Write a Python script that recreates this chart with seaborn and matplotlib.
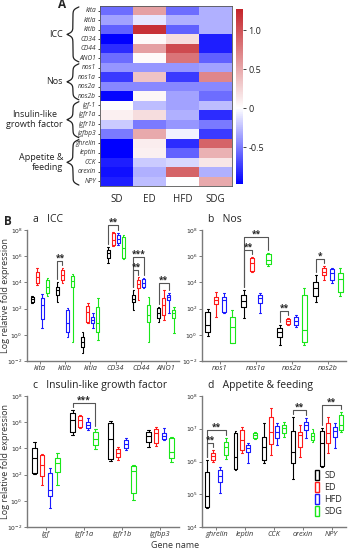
import numpy as np
import pandas as pd
import matplotlib
matplotlib.use("Agg")
import matplotlib.pyplot as plt
import matplotlib.transforms as mtransforms
from matplotlib.colors import LinearSegmentedColormap
from matplotlib.patches import Patch
import seaborn as sns

sns.set_theme(style="ticks")
plt.rcParams['font.family'] = ['Open Sans', 'DejaVu Sans']

# ---------------- data: heatmap (A) ----------------
heat_genes = ["kita", "kitla", "kitlb", "CD34", "CD44", "ANO1",
              "nos1", "nos1a", "nos2a", "nos2b",
              "igf-1", "igfr1a", "igfr1b", "igfbp3",
              "ghrelin", "leptin", "CCK", "orexin", "NPY"]
heat_groups = ["SD", "ED", "HFD", "SDG"]
heat_values = [
    [-0.55, 0.55, -0.55, -0.30],
    [-0.35, -0.10, -0.30, -0.30],
    [-0.60, 1.20, -0.60, -0.30],
    [-0.97, 0.03, 0.20, -0.85],
    [-0.80, 0.55, 1.05, -0.85],
    [-0.55, 0.03, 0.80, -0.60],
    [-0.40, -0.40, -0.40, -0.35],
    [-0.75, 0.35, -0.75, 0.70],
    [-0.45, -0.45, -0.45, -0.45],
    [-0.95, 0.05, -0.35, -0.55],
    [0.00, -0.25, -0.35, -0.25],
    [0.08, 0.20, -0.30, -0.80],
    [-0.20, -0.50, -0.40, -0.50],
    [-0.50, 0.50, -0.05, -0.75],
    [-0.97, 0.10, -0.80, 0.90],
    [-0.97, 0.08, -0.60, 0.45],
    [-0.85, -0.20, -0.15, 0.15],
    [-0.90, -0.30, 0.90, -0.30],
    [-0.85, -0.25, 0.00, 0.50],
]
heat_blocks = [("ICC", 0, 6, "right"), ("Nos", 6, 10, "right"),
               ("Insulin-like\ngrowth factor", 10, 14, "center"),
               ("Appetite &\nfeeding", 14, 19, "right")]

# ---------------- data: box plots (B), log10 fold expression ----------------
# each box: [min, q1, median, q3, max]
groups = ["SD", "ED", "HFD", "SDG"]
group_colors = ["#000000", "#FF1A1A", "#1A1AFF", "#1AE61A"]

icc_genes = ["kita", "kitlb", "kitla", "CD34", "CD44", "ANO1"]
icc_sd = [[2.4, 2.5, 2.7, 2.9, 3.0], [2.5, 3.04, 3.42, 3.65, 4.03], [-1.4, -0.93, -0.55, -0.17, 0.2],
          [5.5, 5.86, 6.24, 6.47, 6.7], [1.9, 2.5, 2.73, 3.04, 3.42], [1.0, 1.28, 1.66, 2.05, 2.12]]
icc_ed = [[3.8, 3.95, 4.4, 4.8, 5.1], [3.95, 4.2, 4.55, 4.95, 5.1], [0.9, 1.0, 1.74, 2.2, 2.43],
          [6.78, 6.85, 7.24, 7.77, 7.85], [2.65, 3.57, 3.87, 4.2, 4.4], [1.13, 1.5, 2.27, 2.8, 3.42]]
icc_hfd = [[0.5, 1.2, 2.3, 2.8, 3.1], [-0.2, 0.2, 0.9, 1.9, 2.05], [0.5, 0.9, 1.13, 1.36, 1.66],
           [6.85, 7.0, 7.3, 7.6, 7.77], [3.57, 3.65, 3.95, 4.27, 4.34], [1.66, 2.65, 2.88, 3.04, 3.2]]
icc_sdg = [[3.0, 3.2, 3.65, 4.2, 4.35], [-0.55, 3.65, 4.1, 4.5, 4.64], [-0.4, 0.2, 0.9, 2.1, 2.8],
           [5.8, 5.86, 6.63, 7.47, 7.6], [-0.55, 0.98, 1.5, 2.27, 2.88], [0.13, 1.28, 1.66, 1.9, 2.12]]
icc_sig = [("kitlb", "SD", "ED", "**"), ("CD34", "SD", "HFD", "**"),
           ("CD44", "SD", "ED", "**"), ("CD44", "SD", "HFD", "***"),
           ("ANO1", "SD", "HFD", "**")]

nos_genes = ["nos1", "nos1a", "nos2a", "nos2b"]
nos_sd = [[-0.1, 0.2, 0.75, 1.74, 1.97], [1.28, 2.12, 2.58, 3.04, 3.42],
          [-0.78, -0.17, 0.2, 0.52, 0.75], [2.5, 2.96, 3.57, 4.03, 4.56]]
nos_ed = [[1.35, 2.35, 2.65, 2.88, 3.27], [4.8, 4.87, 5.48, 5.86, 5.94],
          [0.75, 0.82, 1.05, 1.2, 1.28], [4.2, 4.56, 4.8, 5.1, 5.25]]
nos_hfd = [[1.66, 1.74, 2.65, 2.88, 3.2], [1.66, 2.43, 2.8, 3.04, 3.2],
           [0.6, 0.75, 1.05, 1.35, 1.5], [3.95, 4.2, 4.7, 5.0, 5.1]]
nos_sdg = [[-0.65, -0.63, 0.6, 1.35, 1.9], [5.25, 5.4, 5.7, 6.17, 6.24],
           [-0.78, -0.55, 0.37, 3.04, 3.57], [2.96, 3.27, 4.26, 4.72, 5.1]]
nos_sig = [("nos1a", "SD", "ED", "**"), ("nos1a", "SD", "SDG", "**"),
           ("nos2a", "SD", "ED", "**"), ("nos2b", "SD", "ED", "*")]

igf_genes = ["igf", "igfr1a", "igfr1b", "igfbp3"]
igf_sd = [[2.05, 2.12, 3.27, 4.03, 4.49], [5.0, 5.25, 6.17, 6.7, 6.93],
          [3.04, 3.19, 4.72, 5.94, 6.09], [4.1, 4.49, 4.95, 5.25, 5.4]]
igf_ed = [[1.2, 1.9, 2.73, 3.5, 3.57], [5.56, 5.63, 6.17, 6.47, 6.55],
          [3.1, 3.34, 3.65, 3.95, 4.1], [4.18, 4.41, 5.17, 5.48, 5.63]]
igf_hfd = [[-0.55, 0.37, 0.82, 2.12, 2.5], [5.4, 5.56, 5.8, 6.0, 6.32],
           [3.88, 4.03, 4.34, 4.64, 4.8], [4.64, 4.72, 4.95, 5.17, 5.56]]
igf_sdg = [[1.2, 2.2, 2.88, 3.27, 3.65], [3.95, 4.26, 4.72, 5.25, 5.48],
           [0.06, 0.6, 2.27, 2.65, 2.73], [2.96, 3.27, 3.73, 4.8, 4.87]]
igf_sig = [("igfr1a", "SD", "SDG", "***")]

app_genes = ["ghrelin", "leptin", "CCK", "orexin", "NPY"]
app_sd = [[4.58, 4.61, 4.95, 5.68, 6.05], [5.75, 5.77, 6.14, 6.87, 6.93], [5.95, 6.05, 6.44, 6.75, 7.18],
          [5.47, 5.95, 6.29, 6.93, 7.36], [5.84, 5.86, 6.56, 6.93, 7.02]]
app_ed = [[5.98, 6.05, 6.17, 6.26, 6.35], [6.26, 6.35, 6.66, 6.96, 7.05], [6.2, 6.53, 6.9, 7.36, 7.63],
          [6.14, 6.44, 6.81, 6.9, 7.11], [6.26, 6.56, 6.87, 7.18, 7.36]]
app_hfd = [[5.04, 5.37, 5.56, 5.74, 5.83], [5.95, 6.29, 6.41, 6.5, 6.56], [6.5, 6.72, 6.9, 7.08, 7.18],
           [6.72, 6.96, 7.11, 7.2, 7.33], [6.41, 6.75, 6.93, 7.05, 7.18]]
app_sdg = [[6.08, 6.2, 6.44, 6.6, 6.72], [6.7, 6.72, 6.8, 6.88, 6.9], [6.75, 6.87, 7.02, 7.11, 7.2],
           [6.6, 6.66, 6.78, 6.87, 6.99], [6.9, 6.96, 7.11, 7.42, 7.51]]
app_sig = [("ghrelin", "SD", "ED", "**"), ("ghrelin", "SD", "SDG", "**"),
           ("orexin", "SD", "HFD", "**"), ("NPY", "SD", "SDG", "**")]

AXIS_GREY = "#7a7a7a"


def to_long(genes, per_group):
    rows = []
    for grp, arr in zip(groups, per_group):
        for g, vals in zip(genes, arr):
            for v in vals:
                rows.append((g, grp, v))
    return pd.DataFrame(rows, columns=["gene", "group", "val"])


def draw_panel(ax, genes, per_group, sig, ylim, yticks, width, title):
    df = to_long(genes, per_group)
    sns.boxplot(data=df, x="gene", y="val", hue="group", order=genes, hue_order=groups,
                palette=group_colors, fill=False, whis=(0, 100), width=width, gap=0.4,
                linewidth=0.8, legend=False, ax=ax)
    ax.set_ylim(*ylim)
    ax.set_xlim(-0.5, len(genes) - 0.5)
    ax.set_yticks(yticks)
    ax.set_yticklabels([f"$10^{{{t}}}$" for t in yticks], fontsize=4.3)
    ax.set_xticks(range(len(genes)))
    ax.set_xticklabels(genes, fontsize=5.3, style="italic", color="#333333")
    ax.set_xlabel("")
    ax.set_ylabel("")
    sns.despine(ax=ax)
    for s in ["left", "bottom"]:
        ax.spines[s].set_color(AXIS_GREY)
        ax.spines[s].set_linewidth(1.0)
    ax.tick_params(axis="both", length=2, width=0.7, color=AXIS_GREY, pad=1.2)
    ax.text(0.04, 1.035, title, transform=ax.transAxes, fontsize=7.5, va="bottom", color="#222222")

    # significance brackets
    span = ylim[1] - ylim[0]
    pad, step, drop = 0.055 * span, 0.1 * span, 0.02 * span
    n = len(groups)
    offs = [(-width / 2 + width / (2 * n) + i * width / n) for i in range(n)]
    maxima = {(g, grp): max(arr[i]) for grp, arr in zip(groups, per_group) for i, g in enumerate(genes)}
    used = {}
    for gene, ga, gb, stars in sig:
        gi = genes.index(gene)
        ia, ib = groups.index(ga), groups.index(gb)
        top = max(maxima[(gene, groups[k])] for k in range(ia, ib + 1))
        level = top + pad
        if gene in used:
            level = max(level, used[gene] + step)
        used[gene] = level
        xa, xb = gi + offs[ia], gi + offs[ib]
        ax.plot([xa, xa, xb, xb],
                [maxima[(gene, ga)] + drop, level, level, maxima[(gene, gb)] + drop],
                color="#555555", lw=0.8, clip_on=False)
        ax.text((xa + xb) / 2, level - 0.012 * span, stars, ha="center", va="bottom",
                fontsize=6, fontweight="bold", color="#222222", clip_on=False)


def draw_brace(ax, top, bottom, x_right, depth, beta=7.0):
    half = (bottom - top) / 2
    t = np.linspace(0, half, 120)
    h = 1 / (1 + np.exp(-beta * t)) + 1 / (1 + np.exp(-beta * (t - half)))
    yy = np.concatenate([top + t, top + half + t])
    xx = np.concatenate([h, h[::-1]])
    xx = x_right - depth * (xx - 0.5)
    trans = mtransforms.blended_transform_factory(ax.transAxes, ax.transData)
    ax.plot(xx, yy, transform=trans, color="#222222", lw=0.9, clip_on=False)


fig = plt.figure(figsize=(3.51, 5.5), dpi=100)

# ---------------- A: heatmap ----------------
ax_h = fig.add_axes([100 / 351, 1 - 186 / 550, 132 / 351, 180 / 550])
cax = fig.add_axes([236 / 351, 1 - 184 / 550, 7 / 351, 175 / 550])
vmin, vmax = -0.97, 1.27
cmap = LinearSegmentedColormap.from_list(
    "bwr_custom", [(0.0, "#0000FF"), (-vmin / (vmax - vmin), "#FFFFFF"), (1.0, "#C4242A")])
heat_df = pd.DataFrame(heat_values, index=heat_genes, columns=heat_groups)
sns.heatmap(heat_df, ax=ax_h, cbar_ax=cax, cmap=cmap, vmin=vmin, vmax=vmax,
            xticklabels=True, yticklabels=True)
ax_h.set_yticklabels(heat_genes, rotation=0, fontsize=4.8, style="italic", color="#333333")
ax_h.set_xticklabels(heat_groups, fontsize=7, color="#222222")
ax_h.tick_params(axis="y", length=1.8, width=0.6, pad=1)
ax_h.tick_params(axis="x", length=0, pad=6)
for s in ax_h.spines.values():
    s.set_visible(True)
    s.set_color("#555555")
    s.set_linewidth(0.6)
cax.set_yticks([-0.5, 0, 0.5, 1.0])
cax.set_yticklabels(["-0.5", "0", "0.5", "1.0"], fontsize=6.5, color="#222222")
cax.tick_params(length=2, width=0.6, pad=2)
for name, r0, r1, align in heat_blocks:
    draw_brace(ax_h, r0 + 0.1, r1 - 0.1, -0.16, 0.09)
    ax_h.text(-0.28, (r0 + r1) / 2, name, transform=mtransforms.blended_transform_factory(
        ax_h.transAxes, ax_h.transData), ha="right", va="center", multialignment=align,
        fontsize=6.5, color="#222222")
fig.text(62 / 351, 1 - 5 / 550, "A", fontsize=8.5, fontweight="bold", ha="center", va="center")

# ---------------- B: box plots ----------------
ax_a = fig.add_axes([27 / 351, 1 - 361 / 550, 152 / 351, 131 / 550])
ax_b = fig.add_axes([202 / 351, 1 - 361 / 550, 144 / 351, 131 / 550])
ax_c = fig.add_axes([27 / 351, 1 - 527 / 550, 152 / 351, 131 / 550])
ax_d = fig.add_axes([202 / 351, 1 - 527 / 550, 144 / 351, 131 / 550])

wide_ticks = [-2, 0, 2, 4, 6, 8]
draw_panel(ax_a, icc_genes, [icc_sd, icc_ed, icc_hfd, icc_sdg], icc_sig, (-2, 8), wide_ticks, 0.8, "a   ICC")
draw_panel(ax_b, nos_genes, [nos_sd, nos_ed, nos_hfd, nos_sdg], nos_sig, (-2, 8), wide_ticks, 0.9, "b   Nos")
draw_panel(ax_c, igf_genes, [igf_sd, igf_ed, igf_hfd, igf_sdg], igf_sig, (-2, 8), wide_ticks, 0.8,
           "c   Insulin-like growth factor")
draw_panel(ax_d, app_genes, [app_sd, app_ed, app_hfd, app_sdg], app_sig, (4, 8), [4, 5, 6, 7, 8], 0.9,
           "d   Appetite & feeding")

for ax in (ax_a, ax_c):
    ax.set_ylabel("Log relative fold expression", fontsize=6.5, color="#333333")
    ax.yaxis.set_label_coords(-0.115, 0.5)

handles = [Patch(facecolor="white", edgecolor=c, linewidth=1.0, label=g) for g, c in zip(groups, group_colors)]
ax_d.legend(handles=handles, loc="lower right", bbox_to_anchor=(1.03, 0.02), frameon=False,
            fontsize=6.5, handlelength=0.45, handleheight=1.3, labelspacing=0.25, handletextpad=0.6)

fig.text(8 / 351, 1 - 222 / 550, "B", fontsize=8.5, fontweight="bold", ha="center", va="center")
fig.text(0.5, 1 - 545 / 550, "Gene name", fontsize=6.5, ha="center", va="center", color="#333333")

fig.savefig("out.png", dpi=100)
